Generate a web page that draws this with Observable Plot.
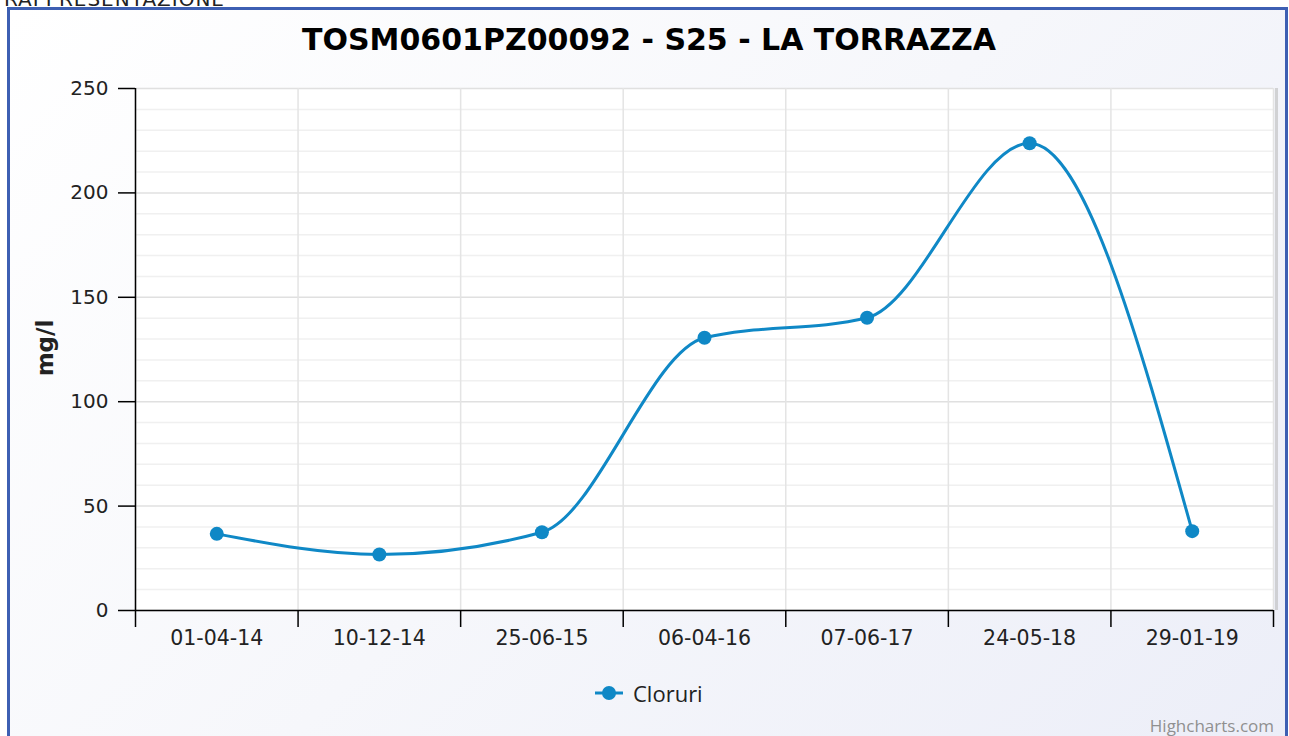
<!DOCTYPE html>
<html>
<head>
<meta charset="utf-8">
<script src="https://cdn.jsdelivr.net/npm/d3@7"></script>
<script src="https://cdn.jsdelivr.net/npm/@observablehq/plot@0.6"></script>
<style>
  body { margin:0; width:1289px; height:736px; overflow:hidden; position:relative; background:#fff; font-family:"DejaVu Sans", Verdana, sans-serif; }
  #frame { position:absolute; left:7px; top:7px; width:1275px; height:740px; border:3px solid #3d5fb3; background:linear-gradient(135deg, #ffffff 0%, #f6f7fb 50%, #eceef8 100%); }
  #toptext { position:absolute; left:4px; top:-13px; font:20px "DejaVu Sans", sans-serif; color:#222; letter-spacing:1px; }
  #title { position:absolute; left:0; top:22px; width:1298px; text-align:center; font:bold 30px "DejaVu Sans", sans-serif; color:#000; }
  #ylabel { position:absolute; left:45px; top:348px; transform:translate(-50%,-50%) rotate(-90deg); font:bold 23px "DejaVu Sans", sans-serif; color:#222; white-space:nowrap; }
  #chart { position:absolute; left:0; top:60px; }
  #legend { position:absolute; left:594px; top:678px; height:30px; display:flex; align-items:center; font:22px "Open Sans", sans-serif; color:#222; }
  #credits { position:absolute; right:15px; top:714px; font:17px "Open Sans", sans-serif; color:#909090; }
</style>
</head>
<body>
<div id="toptext">RAPPRESENTAZIONE</div>
<div id="frame"></div>
<div id="title">TOSM0601PZ00092 - S25 - LA TORRAZZA</div>
<div id="ylabel">mg/l</div>
<div id="chart"></div>
<div id="legend"><svg width="30" height="20"><line x1="1" y1="10" x2="29" y2="10" stroke="#0f88c6" stroke-width="3"/><circle cx="15" cy="10" r="7" fill="#0f88c6"/></svg><span style="margin-left:9px">Cloruri</span></div>
<div id="credits">Highcharts.com</div>
<script>
const dates = ["01-04-14", "10-12-14", "25-06-15", "06-04-16", "07-06-17", "24-05-18", "29-01-19"];
const cloruri = [36.7, 26.8, 37.5, 130.6, 140.2, 223.8, 38.0];
const yTicks = [0, 50, 100, 150, 200, 250];
const yMinor = d3.range(0, 251, 10);
const seriesName = "Cloruri";
const color = "#0f88c6";

const idx = dates.map((d, i) => i);
const bounds = d3.range(dates.length + 1).map(i => i - 0.5);
const data = dates.map((d, i) => ({i, date: d, value: cloruri[i], series: seriesName}));

const chart = Plot.plot({
  width: 1289,
  height: 640,
  marginLeft: 135,
  marginRight: 16,
  marginTop: 28,
  marginBottom: 90,
  style: {background: "transparent", fontFamily: "DejaVu Sans, sans-serif", color: "#222"},
  x: {type: "linear", domain: [-0.5, dates.length - 0.5], axis: null},
  y: {domain: [0, 250], axis: null},
  marks: [
    Plot.frame({fill: "white", stroke: "none"}),
    Plot.ruleX([bounds[bounds.length - 1]], {dx: 3, stroke: "#bbb", strokeWidth: 3, strokeOpacity: 0.6}),
    Plot.ruleY(yMinor.filter(v => v % 50 !== 0), {stroke: "#f0f0f0", strokeWidth: 1.5}),
    Plot.ruleY(yTicks, {stroke: "#e0e0e0", strokeWidth: 1.5}),
    Plot.ruleX(bounds, {stroke: "#e4e4e4", strokeWidth: 1.5}),
    Plot.ruleX([bounds[0]], {stroke: "#000", strokeWidth: 1.5}),
    Plot.ruleY([0], {stroke: "#000", strokeWidth: 1.5}),
    Plot.axisY(yTicks, {tickSize: 17, tickPadding: 10, fontSize: 20, stroke: "#000", strokeWidth: 1.5, label: null}),
    Plot.axisX(bounds, {tickSize: 17, tickFormat: () => "", stroke: "#000", strokeWidth: 1.5, label: null}),
    Plot.axisX(idx, {tickSize: 0, tickPadding: 20, fontSize: 20.5, tickFormat: i => dates[i], label: null}),
    Plot.line(data, {x: "i", y: "value", stroke: color, strokeWidth: 3, curve: "monotone-x"}),
    Plot.dot(data, {x: "i", y: "value", r: 7, fill: color, stroke: "none"})
  ]
});
document.getElementById("chart").append(chart);
</script>
</body>
</html>
